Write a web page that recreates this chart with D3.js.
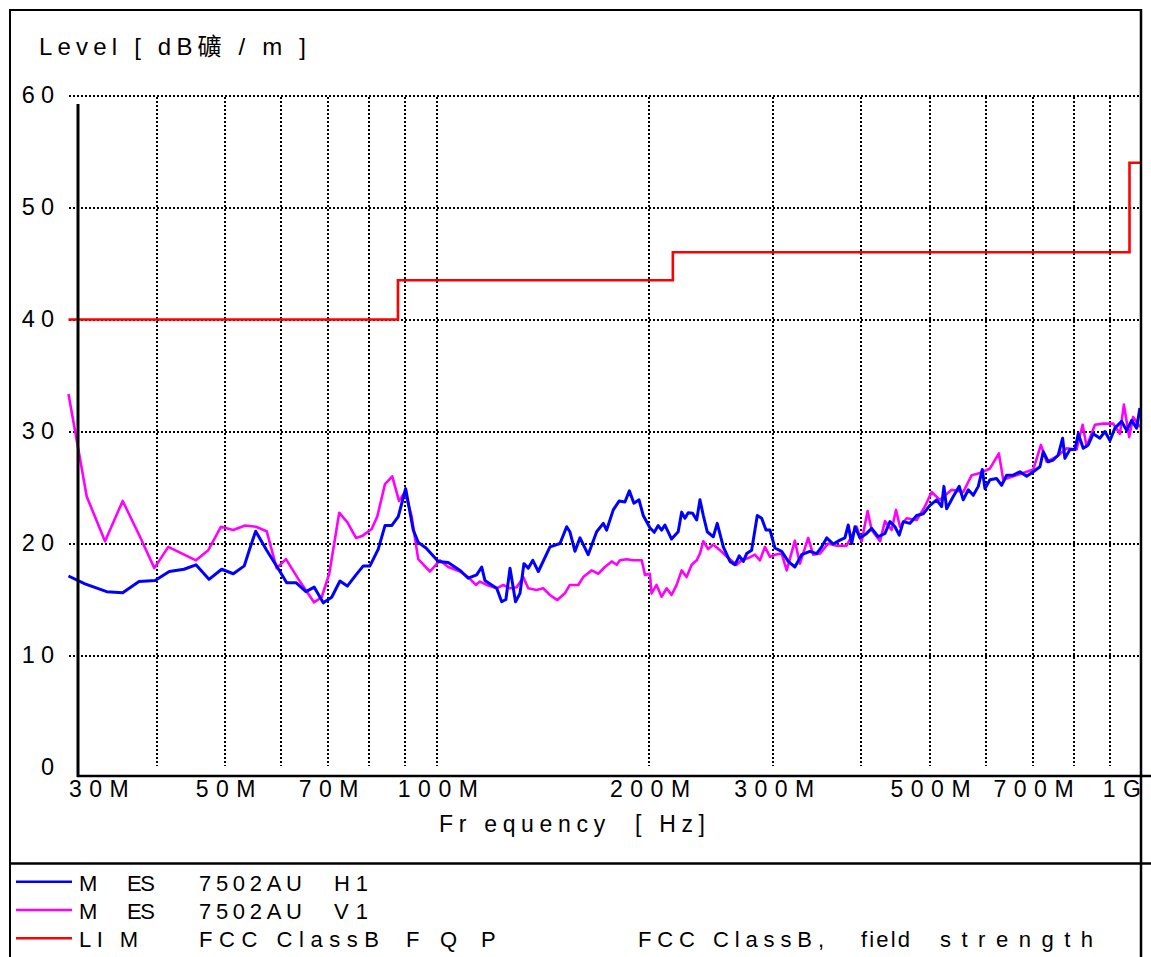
<!DOCTYPE html>
<html>
<head>
<meta charset="utf-8">
<script src="https://cdn.jsdelivr.net/npm/d3@7"></script>
<style>
  html, body { margin: 0; padding: 0; background: #fff; }
  svg { display: block; }
  text { font-family: "Liberation Sans", Arial, "Noto Sans CJK SC", sans-serif; fill: #000; white-space: pre; }
</style>
</head>
<body>
<svg id="chart" width="1151" height="957"></svg>
<script>
// ---------------- DATA ----------------
const freqTicks = [30, 50, 70, 100, 200, 300, 500, 700, 1000];
const freqTickLabels = ["30M", "50M", "70M", "100M", "200M", "300M", "500M", "700M", "1G"];
const gridFreqs = [40, 50, 60, 70, 80, 90, 100, 200, 300, 400, 500, 600, 700, 800, 900];
const levelTicks = [0, 10, 20, 30, 40, 50, 60];
const gridLevels = [10, 20, 30, 40, 50, 60];

// MES 7502AU H1 (blue) : [MHz, dBuV/m]
const mesH1 = [
  [30.0,17.1],[31.66,16.4],[33.99,15.7],[35.81,15.6],[37.77,16.6],[39.80,16.7],[41.70,17.5],[43.75,17.7],
  [45.49,18.1],[47.47,16.8],[49.48,17.7],[51.39,17.3],[53.27,18.0],[54.27,19.6],[55.29,21.1],[57.31,19.4],
  [59.86,17.5],[61.18,16.5],[63.07,16.5],[65.16,15.7],[66.95,16.1],[68.95,14.7],[70.87,15.2],[72.81,16.65],
  [74.58,16.2],[76.73,17.2],[78.58,18.0],[80.31,18.0],[82.52,19.5],[84.35,21.6],[86.21,21.6],[88.09,22.4],
  [90.24,24.9],[92.51,21.2],[94.03,20.1],[96.45,19.6],[100.4,18.4],[103.7,18.3],[107.8,17.6],[110.7,16.9],
  [113.8,17.2],[115.7,17.9],[116.9,16.7],[119.5,16.3],[121.5,16.0],[123.5,14.8],[125.2,15.0],[126.9,17.8],
  [129.2,14.8],[131.1,15.55],[132.8,18.2],[134.7,17.8],[136.7,18.5],[139.2,17.5],[144.6,19.7],[149.4,20.0],
  [152.7,21.5],[154.3,21.05],[156.9,19.3],[159.5,20.5],[163.8,19.0],[168.4,21.05],[172.1,21.8],[174.0,21.2],
  [177.8,23.0],[181.3,23.8],[184.7,23.7],[187.4,24.7],[190.2,23.6],[193.4,23.9],[196.1,22.5],[200.4,21.4],
  [203.3,21.0],[205.9,21.6],[208.2,21.2],[210.5,21.65],[215.1,20.4],[219.8,21.05],[222.3,22.8],[224.7,22.25],
  [227.1,22.75],[230.4,22.7],[233.5,22.1],[236.0,23.9],[238.6,22.5],[241.7,21.05],[246.5,20.6],[249.7,21.8],
  [254.7,19.7],[260.3,18.4],[264.6,18.1],[268.3,18.9],[271.9,18.4],[274.9,19.1],[279.4,19.4],[284.6,22.5],
  [288.7,22.25],[292.8,21.2],[296.7,21.2],[301.5,19.6],[308.2,19.3],[314.9,18.4],[321.8,17.9],[329.0,19.0],
  [338.0,19.3],[345.5,19.1],[351.2,19.7],[357.0,20.5],[364.8,19.95],[372.8,20.3],[378.9,20.5],[383.0,21.65],
  [387.4,20.0],[391.6,21.5],[398.0,20.5],[406.8,20.9],[413.5,21.35],[422.5,20.6],[431.9,20.9],[439.0,21.95],
  [446.2,21.5],[452.5,20.75],[458.5,21.95],[468.6,21.8],[479.0,22.5],[489.4,22.65],[500.2,23.4],[511.3,23.9],
  [519.7,23.3],[523.6,25.1],[528.3,23.1],[539.8,24.2],[550.5,25.1],[557.7,23.9],[566.9,24.8],[576.3,24.3],
  [585.8,25.1],[593.5,26.6],[598.7,24.9],[608.6,25.7],[622.0,25.8],[632.2,25.2],[642.7,26.1],[656.7,26.1],
  [671.2,26.4],[686.1,26.0],[701.0,26.4],[716.5,26.85],[724.3,28.2],[736.2,27.3],[748.2,27.45],[760.6,27.9],
  [771.6,29.4],[777.4,27.6],[790.2,28.4],[803.3,28.4],[812.0,29.8],[825.3,28.5],[838.9,28.8],[852.7,29.8],
  [871.6,29.4],[886.0,30.0],[900.6,29.2],[915.4,30.3],[935.6,30.9],[951.1,30.1],[966.8,31.0],[982.4,30.3],
  [993.1,32.1]
];

// MES 7502AU V1 (magenta) : [MHz, dBuV/m]
const mesV1 = [
  [30.0,33.35],[31.84,24.2],[33.80,20.2],[35.81,23.8],[37.89,20.6],[39.71,17.8],[41.56,19.7],[45.49,18.5],
  [47.36,19.4],[49.37,21.5],[51.39,21.2],[53.39,21.6],[55.34,21.5],[57.31,21.1],[59.21,17.8],[61.04,18.6],
  [63.90,16.6],[66.89,14.75],[68.59,15.2],[70.31,17.3],[72.64,22.75],[74.58,21.9],[76.73,20.5],[78.43,20.7],
  [80.76,21.3],[82.25,22.4],[84.35,25.3],[86.38,26.0],[88.30,23.8],[90.06,24.6],[92.03,22.4],[94.03,18.6],
  [97.70,17.5],[100.9,18.5],[103.7,17.9],[107.8,17.5],[110.7,17.0],[113.5,16.3],[115.0,16.6],[117.6,16.3],
  [121.5,16.0],[124.1,16.3],[126.9,16.0],[129.7,16.1],[132.5,17.0],[134.7,16.0],[138.4,15.85],[141.4,16.0],
  [144.6,15.4],[148.1,14.95],[151.8,15.55],[154.3,16.3],[158.6,16.3],[161.2,17.0],[165.7,17.6],[169.3,17.3],
  [173.0,17.9],[176.9,18.4],[179.8,18.1],[181.7,18.5],[185.8,18.6],[189.7,18.5],[195.1,18.5],[197.2,17.2],
  [200.4,17.3],[201.5,15.55],[204.8,16.3],[208.2,15.25],[211.7,16.0],[215.1,15.4],[218.7,16.3],[222.3,17.6],
  [225.9,17.0],[229.7,18.1],[233.5,18.5],[236.0,19.1],[238.6,20.2],[242.4,19.5],[246.5,19.9],[252.0,19.4],
  [258.9,18.7],[266.1,18.1],[270.4,18.5],[276.3,18.7],[282.4,19.0],[287.1,18.5],[291.8,19.7],[296.7,18.8],
  [301.5,19.0],[308.2,19.1],[313.3,17.6],[321.8,20.25],[327.1,18.2],[336.1,20.5],[341.6,19.0],[349.2,19.1],
  [358.8,20.0],[368.8,19.8],[381.0,19.8],[393.7,21.5],[400.2,20.2],[408.1,22.9],[413.5,21.2],[425.0,20.2],
  [431.9,22.0],[441.4,21.2],[447.7,23.0],[453.6,21.5],[463.6,22.25],[479.0,22.1],[492.1,23.3],[503.0,24.6],
  [516.8,23.9],[537.0,24.8],[557.7,24.6],[573.3,26.1],[589.0,26.3],[608.6,26.7],[626.6,28.05],[635.5,25.7],
  [656.7,26.0],[678.3,26.3],[701.0,26.6],[718.8,28.8],[732.4,27.3],[756.7,27.75],[781.7,28.5],[807.6,28.4],
  [823.7,30.6],[834.5,28.65],[857.5,30.6],[881.1,30.7],[910.3,30.7],[930.4,29.8],[942.6,32.4],[959.0,29.5],
  [971.5,31.3],[993.1,30.4]
];

// LIM FCC Class B field strength limit (step): [MHz, dBuV/m]
const limFreq = [30, 88, 216, 960, 1000];
const limLevel = [40, 43.5, 46, 54, 54];

const yTitle = "Level [ dB礦 / m ]";
const xTitle = "Fr equency  [ Hz]";
const legendColors = ["#0000ff", "#ff00ff", "#ff0000"];
const legendKind = [["M", "ES"], ["M", "ES"], ["LI M"]];
const legendName = [["7502AU", "H1"], ["7502AU", "V1"], ["FCC ClassB", "F", "Q", "P"]];
const legendDesc = ["", "", ["FCC ClassB,", "field", "strength"]];

// ---------------- DRAW ----------------
const svg = d3.select("#chart");
const x = d3.scaleLog().domain([30, 1000]).range([68.5, 1142]);
const y = d3.scaleLinear().domain([0, 60]).range([767.5, 95.5]);

svg.append("rect").attr("width", 1151).attr("height", 957).attr("fill", "#fff");

// grid (crisp dotted)
const grid = svg.append("g").attr("stroke", "#000").attr("stroke-width", 2)
  .attr("stroke-dasharray", "2,2").attr("shape-rendering", "crispEdges");
grid.selectAll("line.h").data(gridLevels).join("line").attr("class", "h")
  .attr("x1", Math.round(x(30))).attr("x2", 1140)
  .attr("y1", d => Math.round(y(d))).attr("y2", d => Math.round(y(d)));
grid.selectAll("line.v").data(gridFreqs).join("line").attr("class", "v")
  .attr("x1", d => Math.round(x(d))).attr("x2", d => Math.round(x(d)))
  .attr("y1", Math.round(y(60)) + 1).attr("y2", 766);

// curves
const line = d3.line().x(d => x(d[0])).y(d => y(d[1]));
svg.append("path").datum(mesV1).attr("d", line)
  .attr("fill", "none").attr("stroke", "#ff00ff").attr("stroke-width", 2.6).attr("stroke-linejoin", "round");
svg.append("path").datum(mesH1).attr("d", line)
  .attr("fill", "none").attr("stroke", "#0000ff").attr("stroke-width", 3).attr("stroke-linejoin", "round");
const limData = limFreq.map((f, i) => [f, limLevel[i]]);
svg.append("path").datum(limData)
  .attr("d", d3.line().x(d => x(d[0])).y(d => y(d[1])).curve(d3.curveStepAfter))
  .attr("fill", "none").attr("stroke", "#ff0000").attr("stroke-width", 2.6);

// frame
const frame = svg.append("g").attr("stroke", "#000").attr("fill", "none");
frame.append("line").attr("x1", 10).attr("x2", 10).attr("y1", 9).attr("y2", 957).attr("stroke-width", 2);
frame.append("line").attr("x1", 1141).attr("x2", 1141).attr("y1", 9).attr("y2", 957).attr("stroke-width", 2.5);
frame.append("line").attr("x1", 9).attr("x2", 1142).attr("y1", 10).attr("y2", 10).attr("stroke-width", 2);
frame.append("line").attr("x1", 10).attr("x2", 1151).attr("y1", 863.5).attr("y2", 863.5).attr("stroke-width", 2.5);
// axis lines
frame.append("line").attr("x1", 78).attr("x2", 78).attr("y1", 104).attr("y2", 777).attr("stroke-width", 3);
frame.append("line").attr("x1", 77).attr("x2", 1151).attr("y1", 776).attr("y2", 776).attr("stroke-width", 2.5);

// y axis labels
const yAxis = svg.append("g").call(d3.axisLeft(y).tickValues(levelTicks).tickSize(0).tickPadding(0));
yAxis.select(".domain").remove();
yAxis.selectAll("text")
  .attr("x", 60).attr("dy", "0.3em")
  .style("font-size", "23.5px").style("letter-spacing", "6px")
  .style("font-family", "\"Liberation Sans\", Arial, sans-serif");

// x axis labels
const xAxis = svg.append("g").attr("transform", "translate(0,776)")
  .call(d3.axisBottom(x).tickValues(freqTicks).tickFormat((d, i) => freqTickLabels[i]).tickSize(0).tickPadding(5));
xAxis.select(".domain").remove();
xAxis.selectAll("text")
  .style("font-size", "23px").style("letter-spacing", "7.5px")
  .style("font-family", "\"Liberation Sans\", Arial, sans-serif")
  .attr("dx", 4);
xAxis.selectAll("text").filter((d, i) => i === 0).attr("text-anchor", "start").attr("dx", 0);
xAxis.selectAll("text").filter((d, i) => i === freqTicks.length - 1).attr("text-anchor", "end").attr("dx", 6);

// titles
function fitText(str, x0, base, width, size) {
  const t = svg.append("text").attr("x", x0).attr("y", base)
    .style("font-size", size + "px").text(str);
  if (width) t.attr("textLength", width).attr("lengthAdjust", "spacing");
  return t;
}
fitText(yTitle, 39, 55, 267, 24);
fitText(xTitle, 439, 831.5, 266, 23);

// legend
const rowBase = [890.7, 919, 947.3];
legendColors.forEach((c, i) => {
  const cy = rowBase[i] - 9;
  svg.append("line").attr("x1", 16).attr("x2", 72).attr("y1", cy).attr("y2", cy)
    .attr("stroke", c).attr("stroke-width", 2.5);
});
// row 1 & 2
[0, 1].forEach(i => {
  fitText(legendKind[i][0], 79, rowBase[i], null, 22);
  fitText(legendKind[i][1], 127, rowBase[i], 28, 22);
  fitText(legendName[i][0], 199, rowBase[i], 103, 22);
  fitText(legendName[i][1], 334, rowBase[i], 34, 22);
});
// row 3
fitText(legendKind[2][0], 79, rowBase[2], 59, 22);
fitText(legendName[2][0], 199, rowBase[2], 180, 22);
fitText(legendName[2][1], 406, rowBase[2], null, 22);
fitText(legendName[2][2], 440, rowBase[2], null, 22);
fitText(legendName[2][3], 481, rowBase[2], null, 22);
fitText(legendDesc[2][0], 638, rowBase[2], 186, 22);
fitText(legendDesc[2][1], 861, rowBase[2], 49, 22);
fitText(legendDesc[2][2], 940, rowBase[2], 153, 22);
</script>
</body>
</html>
